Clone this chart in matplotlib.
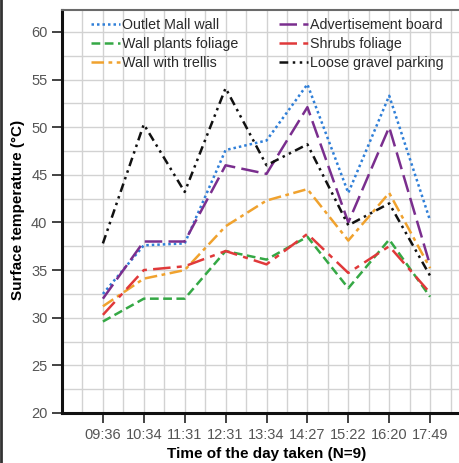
import matplotlib
matplotlib.use("Agg")
import matplotlib.pyplot as plt
from matplotlib.lines import Line2D
from matplotlib.ticker import MultipleLocator

plt.rcParams['font.family'] = ['Liberation Sans', 'DejaVu Sans']

times = ["09:36", "10:34", "11:31", "12:31", "13:34", "14:27", "15:22", "16:20", "17:49"]

outlet_mall_wall = [32.5, 37.6, 37.8, 47.6, 48.6, 54.5, 43.1, 53.3, 40.2]
wall_plants_foliage = [29.6, 32.0, 32.0, 37.0, 36.1, 38.5, 33.1, 38.2, 32.2]
wall_with_trellis = [31.2, 34.1, 35.0, 39.6, 42.3, 43.5, 38.1, 43.1, 35.2]
advertisement_board = [32.0, 38.0, 38.0, 46.0, 45.1, 52.1, 40.0, 50.0, 35.5]
shrubs_foliage = [30.3, 35.0, 35.4, 37.0, 35.6, 38.8, 34.7, 37.5, 32.6]
loose_gravel_parking = [37.8, 50.3, 43.2, 54.1, 46.0, 48.2, 39.7, 42.0, 34.4]

series = [
    ("Outlet Mall wall", outlet_mall_wall, "#2f7fd8", (0, (1, 1.2))),
    ("Wall plants foliage", wall_plants_foliage, "#35a845", (0, (3.5, 1.8))),
    ("Wall with trellis", wall_with_trellis, "#f0a22e", (0, (5, 1.8, 1.5, 1.8))),
    ("Advertisement board", advertisement_board, "#7a2e8e", (0, (7, 2.5))),
    ("Shrubs foliage", shrubs_foliage, "#e0393a", (0, (7, 2.5, 2, 2.5))),
    ("Loose gravel parking", loose_gravel_parking, "#111111", (0, (3.5, 1.8, 1, 1.8, 1, 1.8))),
]

fig = plt.figure(figsize=(4.59, 4.63), dpi=100)
ax = fig.add_axes([62 / 459, 50 / 463, (471 - 62) / 459, (413 - 10) / 463])

x = list(range(len(times)))
for name, vals, color, ls in series:
    ax.plot(x, vals, color=color, linestyle=ls, linewidth=1.8, label=name)

ax.set_xlim(-1, 9)
ax.set_ylim(20, 62.3)
ax.set_xticks(x)
ax.set_xticklabels(times)
ax.set_yticks([20, 25, 30, 35, 40, 45, 50, 55, 60])
ax.xaxis.set_minor_locator(MultipleLocator(0.5))
ax.yaxis.set_minor_locator(MultipleLocator(2.5))
ax.grid(which='both', color='#d2d2d2', linewidth=1.0)
ax.tick_params(axis='x', which='minor', length=0)
ax.tick_params(axis='y', which='minor', length=0)
ax.tick_params(axis='both', which='major', direction='out', length=7, width=1.2,
               labelsize=10.5, labelcolor='#555555', color='#222222')
ax.set_axisbelow(True)

for side in ('left', 'bottom'):
    ax.spines[side].set_linewidth(2.2)
    ax.spines[side].set_color('#111111')
ax.spines['top'].set_linewidth(1.5)
ax.spines['top'].set_color('#6a6a6a')
ax.spines['right'].set_visible(False)

ax.set_ylabel("Surface temperature (°C)", fontsize=11, fontweight='bold')
ax.yaxis.set_label_coords(-(62 - 18) / (471 - 62), (413 - 210) / 403)
ax.set_xlabel("Time of the day taken (N=9)", fontsize=11, fontweight='bold')
ax.xaxis.set_label_coords((267 - 62) / (471 - 62), -(454 - 413) / 403)
ax.xaxis.label.set_va('center')
ax.yaxis.label.set_va('center')

handles, labels = ax.get_legend_handles_labels()
leg = ax.legend(handles, labels, ncol=2, frameon=False, fontsize=10.3,
                loc='upper left', bbox_to_anchor=(0.058, 0.995),
                handlelength=2.0, handletextpad=0.15, columnspacing=2.85,
                labelspacing=0.36, borderaxespad=0.0)
for t in leg.get_texts():
    t.set_color('#2a2a2a')

fig.add_artist(Line2D([0.003, 0.003], [0, 1], transform=fig.transFigure,
                      color='#333333', linewidth=2))

fig.savefig("out.png", dpi=100)
